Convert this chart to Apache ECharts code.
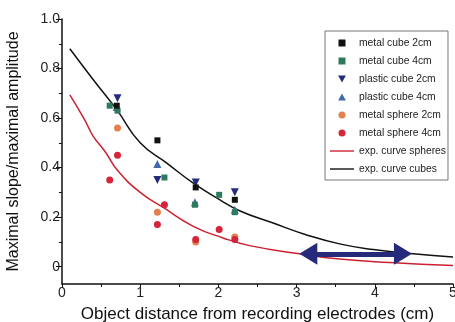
<!DOCTYPE html>
<html>
<head>
<meta charset="utf-8">
<script src="https://cdn.jsdelivr.net/npm/echarts@6/dist/echarts.min.js"></script>
<style>
  html, body { margin: 0; padding: 0; background: #fff; }
  #chart { width: 455px; height: 322px; }
</style>
</head>
<body>
<div id="chart"></div>
<script>
  // measured points, [distance cm, slope/amplitude]
  var metalCube2 = [[0.7, 0.65], [1.22, 0.51], [1.71, 0.32], [2.21, 0.27]];
  var metalCube4 = [[0.61, 0.65], [0.71, 0.63], [1.31, 0.36], [1.70, 0.25], [2.01, 0.29], [2.21, 0.22]];
  var plasticCube2 = [[0.71, 0.68], [1.22, 0.35], [1.71, 0.34], [2.21, 0.30]];
  var plasticCube4 = [[0.70, 0.645], [1.22, 0.415], [1.70, 0.26], [2.21, 0.23]];
  var metalSphere2 = [[0.71, 0.56], [1.22, 0.22], [1.71, 0.10], [2.21, 0.12]];
  var metalSphere4 = [[0.61, 0.35], [0.71, 0.45], [1.22, 0.17], [1.31, 0.25], [1.71, 0.11], [2.01, 0.15], [2.21, 0.11]];

  // fitted curves
  var curveSpheres = [[0.1, 0.694], [0.29, 0.593], [0.4, 0.526], [0.55, 0.465], [0.72, 0.385], [1.0, 0.30],
    [1.29, 0.24], [1.68, 0.163], [2.06, 0.116], [2.4, 0.085], [3.04, 0.052], [3.55, 0.031], [4.19, 0.017], [5.0, 0.005]];
  var curveCubes = [[0.1, 0.88], [0.4, 0.755], [0.7, 0.634], [1.0, 0.50], [1.34, 0.418], [1.68, 0.337],
    [2.02, 0.27], [2.27, 0.226], [2.7, 0.176], [3.12, 0.129], [3.55, 0.092], [3.98, 0.069], [4.49, 0.052], [5.0, 0.039]];

  // double arrow, ends of the shaft (heads sit centred on them)
  var arrowFrom = [3.15, 0.052];
  var arrowTo = [4.36, 0.052];

  var yTicks = [0, 0.2, 0.4, 0.6, 0.8, 1.0];
  var yMinorTicks = [0.1, 0.3, 0.5, 0.7, 0.9];

  var myChart = echarts.init(document.getElementById('chart'));
  var font = 'Liberation Sans, Arial, sans-serif';
  var axisColor = '#111';
  var squareIcon = 'path://M0,0 L10,0 L10,10 L0,10 Z';
  var triUpIcon = 'path://M5,0 L10,9 L0,9 Z';
  var triDownIcon = 'path://M0,0 L10,0 L5,9 Z';
  var lineIcon = 'path://M0,0 L26,0 L26,1.5 L0,1.5 Z';

  var option = {
    animation: false,
    textStyle: { fontFamily: font },
    grid: { left: 62, right: 2, top: 19, bottom: 38, outerBoundsMode: 'none' },
    legend: {
      orient: 'vertical',
      left: 325,
      top: 31,
      padding: [6, 2, 5, 5],
      itemWidth: 24,
      itemHeight: 7,
      itemGap: 6,
      borderColor: '#777',
      borderWidth: 1,
      textStyle: { fontSize: 10.3, color: '#222', lineHeight: 12, fontFamily: font },
      data: [
        { name: 'metal cube 2cm', icon: squareIcon },
        { name: 'metal cube 4cm', icon: squareIcon },
        { name: 'plastic cube 2cm', icon: triDownIcon },
        { name: 'plastic cube 4cm', icon: triUpIcon },
        { name: 'metal sphere 2cm', icon: 'circle' },
        { name: 'metal sphere 4cm', icon: 'circle' },
        { name: 'exp. curve spheres', icon: lineIcon },
        { name: 'exp. curve cubes', icon: lineIcon }
      ]
    },
    xAxis: {
      type: 'value',
      min: 0,
      max: 5,
      interval: 1,
      name: 'Object distance from recording electrodes (cm)',
      nameLocation: 'middle',
      nameGap: 22,
      nameTextStyle: { fontSize: 17, color: '#111', fontFamily: font },
      axisLine: { onZero: false, lineStyle: { color: axisColor, width: 1.5 } },
      axisTick: { length: 4, lineStyle: { color: axisColor } },
      minorTick: { show: true, splitNumber: 2, length: 3, lineStyle: { color: axisColor } },
      axisLabel: { fontSize: 14, color: '#222', margin: 2 },
      splitLine: { show: false }
    },
    yAxis: [{
      type: 'value',
      min: -0.07,
      max: 1.0,
      name: 'Maximal slope/maximal amplitude',
      nameLocation: 'middle',
      nameGap: 40,
      nameTextStyle: { fontSize: 16, color: '#111', fontFamily: font },
      axisLine: { show: true, lineStyle: { color: axisColor, width: 1.5 } },
      axisTick: { show: true, length: 6, customValues: yTicks, lineStyle: { color: axisColor } },
      axisLabel: {
        fontSize: 14, color: '#222', margin: 2, customValues: yTicks,
        formatter: function (v) { return v === 0 ? '0' : v.toFixed(1); }
      },
      splitLine: { show: false }
    }, {
      type: 'value',
      min: -0.07,
      max: 1.0,
      position: 'left',
      axisLine: { show: false },
      axisTick: { show: true, length: 3, customValues: yMinorTicks, lineStyle: { color: axisColor } },
      axisLabel: { show: false },
      splitLine: { show: false }
    }],
    series: [
      {
        name: 'exp. curve spheres', type: 'line', data: curveSpheres, smooth: true,
        symbol: 'none', lineStyle: { color: '#cc2030', width: 1.5 }, itemStyle: { color: '#cc2030' }, z: 2
      },
      {
        name: 'exp. curve cubes', type: 'line', data: curveCubes, smooth: true,
        symbol: 'none', lineStyle: { color: '#111', width: 1.5 }, itemStyle: { color: '#111' }, z: 2
      },
      {
        name: 'metal sphere 2cm', type: 'scatter', data: metalSphere2, symbol: 'circle', symbolSize: 7,
        itemStyle: { color: '#e2804e', opacity: 1 }, z: 3
      },
      {
        name: 'metal sphere 4cm', type: 'scatter', data: metalSphere4, symbol: 'circle', symbolSize: 7,
        itemStyle: { color: '#d4253a', opacity: 1 }, z: 3
      },
      {
        name: 'plastic cube 4cm', type: 'scatter', data: plasticCube4, symbol: triUpIcon, symbolSize: 8,
        itemStyle: { color: '#4068aa', opacity: 1 }, z: 3
      },
      {
        name: 'metal cube 4cm', type: 'scatter', data: metalCube4, symbol: 'rect', symbolSize: 6,
        itemStyle: { color: '#2f7a5c', opacity: 1 }, z: 3
      },
      {
        name: 'plastic cube 2cm', type: 'scatter', data: plasticCube2, symbol: triDownIcon, symbolSize: 8,
        itemStyle: { color: '#232c7c', opacity: 1 }, z: 3
      },
      {
        name: 'metal cube 2cm', type: 'scatter', data: metalCube2, symbol: 'rect', symbolSize: 6,
        itemStyle: { color: '#111', opacity: 1 }, z: 3,
        markLine: {
          silent: true,
          symbol: ['triangle', 'triangle'],
          symbolSize: [22, 18],
          label: { show: false },
          lineStyle: { color: '#262a7a', width: 5, type: 'solid', opacity: 1 },
          data: [[{ coord: arrowFrom }, { coord: arrowTo }]]
        }
      }
    ]
  };
  myChart.setOption(option);
</script>
</body>
</html>
